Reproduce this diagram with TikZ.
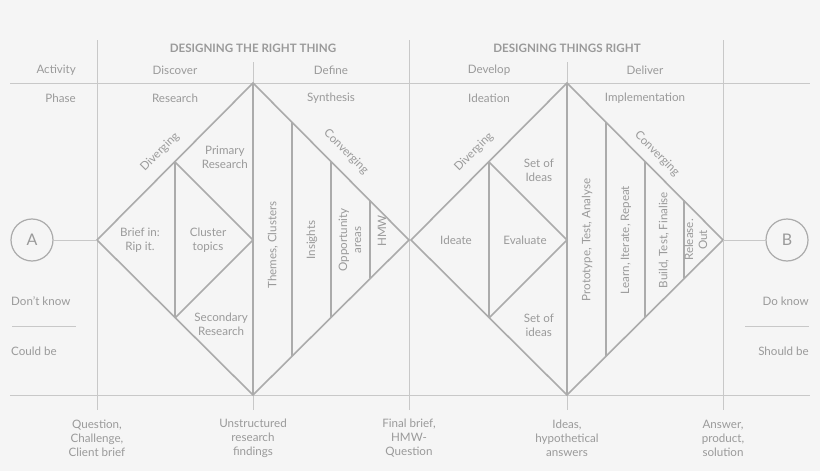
\documentclass[tikz,border=0pt]{standalone}
\usepackage{fontspec}
\setmainfont{Lato}
\usetikzlibrary{positioning,calc}
\definecolor{bgc}{HTML}{F5F5F5}
\definecolor{linec}{HTML}{ABABAB}
\definecolor{gridc}{HTML}{C8C8C8}
\definecolor{txtc}{HTML}{9A9A9A}
\tikzset{
  grid line/.style={draw=gridc,line width=0.8pt},
  shape line/.style={draw=linec,line width=1.6pt},
  lbl/.style={text=txtc,font=\fontsize{11.6}{14}\selectfont,align=center,inner sep=1pt},
  head/.style={text=txtc,font=\fontsize{11.6}{14}\selectfont\bfseries},
}
\begin{document}
\begin{tikzpicture}[x=1pt,y=-1pt]
        % Background
        \fill[bgc] (0,0) rectangle (820,471);
        \useasboundingbox (0,0) rectangle (820,471);

        % Grid
        \draw[grid line] (10,83) -- (810,83);
        \draw[grid line] (10,395) -- (810,395);
        \foreach \gx in {97,409,723} \draw[grid line] (\gx,40) -- (\gx,410);
        \foreach \gx in {253,567} \draw[grid line] (\gx,62) -- (\gx,410);

        % Headings
        \node[head] at (253,48) {DESIGNING THE RIGHT THING};
        \node[head] at (567,48) {DESIGNING THINGS RIGHT};
        \node[lbl,anchor=east] at (77,70) {Activity};
        \node[lbl,anchor=east] at (77,98) {Phase};
        \node[lbl] at (175,70) {Discover};
        \node[lbl] at (331,70) {Define};
        \node[lbl] at (489,70) {Develop};
        \node[lbl] at (645,70) {Deliver};
        \node[lbl] at (175,98) {Research};
        \node[lbl] at (331,98) {Synthesis};
        \node[lbl] at (489,98) {Ideation};
        \node[lbl] at (645,98) {Implementation};

        % Diamond vertices
        \coordinate (l1) at (97,240);  \coordinate (t1) at (253,83);
        \coordinate (r1) at (409,240); \coordinate (b1) at (253,395);
        \coordinate (l2) at (411,240); \coordinate (t2) at (567,83);
        \coordinate (r2) at (723,240); \coordinate (b2) at (567,395);

        % Diamonds
        \draw[shape line] (l1) -- (t1) -- (r1) -- (b1) -- cycle;
        \draw[shape line] (l2) -- (t2) -- (r2) -- (b2) -- cycle;
        \draw[shape line] (t1) -- (b1);
        \draw[shape line] (t2) -- (b2);
        \draw[shape line] (175,162) -- (175,318);
        \draw[shape line] (175,162) -- (253,240) -- (175,318);
        \draw[shape line] (489,162) -- (489,318);
        \draw[shape line] (489,162) -- (567,240) -- (489,318);
        \foreach \dx in {39,78,117} {
          \draw[shape line] (253+\dx,83+\dx) -- (253+\dx,395-\dx);
          \draw[shape line] (567+\dx,83+\dx) -- (567+\dx,395-\dx);
        }

        % Start and end
        \node[circle,draw=linec,line width=1.2pt,minimum size=42pt,text=txtc,font=\fontsize{16}{18}\selectfont] (A) at (32,240) {A};
        \node[circle,draw=linec,line width=1.2pt,minimum size=42pt,text=txtc,font=\fontsize{16}{18}\selectfont] (B) at (787,240) {B};
        \draw[grid line] (A) -- (l1);
        \draw[grid line] (r2) -- (B);

        % Side notes
        \node[lbl,anchor=west] at (10,301) {Don't know};
        \draw[grid line] (12,326) -- (76,326);
        \node[lbl,anchor=west] at (10,351) {Could be};
        \node[lbl,anchor=east] at (810,301) {Do know};
        \draw[grid line] (745,326) -- (809,326);
        \node[lbl,anchor=east] at (810,351) {Should be};

        % Left diamond texts
        \node[lbl,rotate=45] at (160,152) {Diverging};
        \node[lbl,rotate=-45] at (346,152) {Converging};
        \node[lbl,anchor=east] at (249,157) {Primary\\Research};
        \node[lbl,anchor=east] at (249,324) {Secondary\\Research};
        \node[lbl] at (140,240) {Brief in:\\Rip it.};
        \node[lbl] at (208,240) {Cluster\\topics};
        \node[lbl,rotate=90] at (273,245) {Themes, Clusters};
        \node[lbl,rotate=90] at (312,240) {Insights};
        \node[lbl,rotate=90] at (350,240) {Opportunity\\areas};
        \node[lbl,rotate=90] at (382,231) {HMW};

        % Right diamond texts
        \node[lbl,rotate=45] at (474,152) {Diverging};
        \node[lbl,rotate=-45] at (657,154) {Converging};
        \node[lbl,anchor=east] at (555,170) {Set of\\Ideas};
        \node[lbl,anchor=east] at (555,325) {Set of\\ideas};
        \node[lbl] at (456,240) {Ideate};
        \node[lbl] at (525,240) {Evaluate};
        \node[lbl,rotate=90] at (587,240) {Prototype, Test, Analyse};
        \node[lbl,rotate=90] at (626,240) {Learn, Iterate, Repeat};
        \node[lbl,rotate=90] at (664,240) {Build, Test, Finalise};
        \node[lbl,rotate=90] at (696,240) {Release.\\Out};

        % Outcomes
        \node[lbl] at (97,438) {Question,\\Challenge,\\Client brief};
        \node[lbl] at (253,438) {Unstructured\\research\\findings};
        \node[lbl] at (409,438) {Final brief,\\HMW-\\Question};
        \node[lbl] at (567,438) {Ideas,\\hypothetical\\answers};
        \node[lbl] at (723,438) {Answer,\\product,\\solution};
\end{tikzpicture}
\end{document}
